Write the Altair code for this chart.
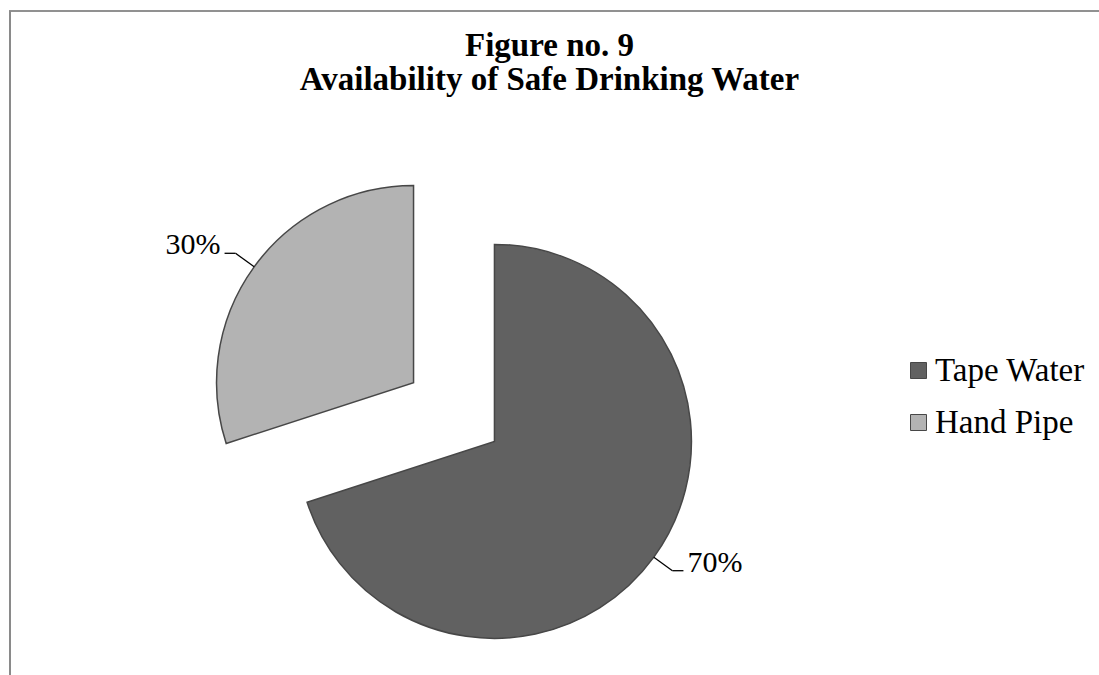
import altair as alt
import pandas as pd

# ---- data ----
categories = ["Tape Water", "Hand Pipe"]
shares = [70, 30]
colors = ["#616161", "#b3b3b3"]
title_lines = ["Figure no. 9", "Availability of Safe Drinking Water"]

df = pd.DataFrame({"category": categories, "share": shares,
                   "order": list(range(len(categories)))})

# ---- layout constants (pixels) ----
W, H = 1099, 675
CX, CY = 454, 412      # un-exploded pie centre
R = 197                # pie radius
EXPLODE = 50           # explosion distance of each slice
LEAD_R = 220           # radius where leader line bends
TAIL = 11              # horizontal tail of leader line
FONT = "Liberation Serif"

base = (
    alt.Chart(df)
    .transform_window(cum="sum(share)", sort=[alt.SortField("order")], frame=[None, 0])
    .transform_joinaggregate(total="sum(share)")
    .transform_calculate(t0="2*PI*(datum.cum - datum.share)/datum.total")
    .transform_calculate(t1="2*PI*datum.cum/datum.total")
    .transform_calculate(mid="(datum.t0 + datum.t1)/2")
    .transform_calculate(sx="sin(datum.mid)")
    .transform_calculate(sy="-cos(datum.mid)")
    .transform_calculate(cx=f"{CX} + {EXPLODE}*datum.sx")
    .transform_calculate(cy=f"{CY} + {EXPLODE}*datum.sy")
    .transform_calculate(x1=f"datum.cx + {R}*datum.sx")
    .transform_calculate(y1=f"datum.cy + {R}*datum.sy")
    .transform_calculate(x2=f"datum.cx + {LEAD_R}*datum.sx")
    .transform_calculate(y2=f"datum.cy + {LEAD_R}*datum.sy")
    .transform_calculate(side="datum.sx >= 0 ? 1 : -1")
    .transform_calculate(x3=f"datum.x2 + {TAIL}*datum.side")
    .transform_calculate(tx=f"datum.x2 + {TAIL + 4}*datum.side")
    .transform_calculate(ty="datum.y2 + 1")
    .transform_calculate(label="datum.share + '%'")
)

X = lambda f: alt.X(f, type="quantitative", scale=None, axis=None)
Y = lambda f: alt.Y(f, type="quantitative", scale=None, axis=None)

arcs = base.mark_arc(outerRadius=R, stroke="#474747", strokeWidth=1.5).encode(
    x=X("cx"), y=Y("cy"),
    theta=alt.Theta("t0:Q", scale=None), theta2="t1:Q",
    color=alt.Color(
        "category:N",
        scale=alt.Scale(domain=categories, range=colors),
        legend=alt.Legend(
            title=None, orient="none", legendX=902, legendY=354,
            symbolType="square", symbolSize=256, symbolStrokeColor="#474747",
            symbolStrokeWidth=1, symbolOpacity=1,
            labelFont=FONT, labelFontSize=33, labelColor="black",
            labelOffset=0, rowPadding=18, padding=0, labelLimit=400,
        ),
    ),
)

diag = base.mark_rule(color="black", strokeWidth=1.3).encode(
    x=X("x1"), y=Y("y1"), x2="x2:Q", y2="y2:Q")
tail = base.mark_rule(color="black", strokeWidth=1.3).encode(
    x=X("x2"), y=Y("y2"), x2="x3:Q", y2="y2:Q")

lbl_right = base.transform_filter("datum.side > 0").mark_text(
    align="left", baseline="alphabetic", font=FONT, fontSize=30, color="black"
).encode(x=X("tx"), y=Y("ty"), text="label:N")
lbl_left = base.transform_filter("datum.side < 0").mark_text(
    align="right", baseline="alphabetic", font=FONT, fontSize=30, color="black"
).encode(x=X("tx"), y=Y("ty"), text="label:N")

frame_top = base.mark_rule(color="#8a8a8a", strokeWidth=1.5).encode(
    x=alt.value(9), x2=alt.value(W), y=alt.value(11))
frame_left = base.mark_rule(color="#8a8a8a", strokeWidth=2).encode(
    x=alt.value(10), y=alt.value(11), y2=alt.value(H))

chart = (
    alt.layer(frame_top, frame_left, arcs, diag, tail, lbl_right, lbl_left)
    .properties(
        width=W, height=H, padding=0,
        autosize=alt.AutoSizeParams(type="none"),
        title=alt.TitleParams(
            title_lines, font=FONT, fontSize=33, fontWeight="bold",
            color="black", anchor="middle", frame="group",
            baseline="alphabetic", offset=-123, lineHeight=34,
        ),
    )
    .configure_view(stroke=None)
)

chart.save("out.html", embed_options={"renderer": "svg", "actions": False})
